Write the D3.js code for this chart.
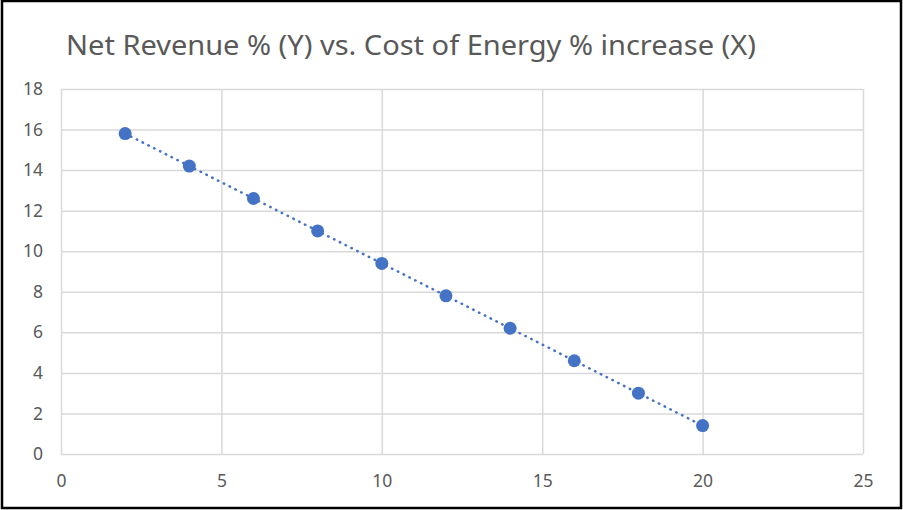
<!DOCTYPE html>
<html><head><meta charset="utf-8">
<script src="https://cdn.jsdelivr.net/npm/d3@7"></script>
<style>body{margin:0;background:#fff}svg{display:block}</style>
</head><body>
<svg id="c" width="903" height="510"></svg>
<script>
const title = "Net Revenue % (Y) vs. Cost of Energy % increase (X)";
const xValues = [2, 4, 6, 8, 10, 12, 14, 16, 18, 20];
const yValues = [15.8, 14.2, 12.6, 11.0, 9.4, 7.8, 6.2, 4.6, 3.0, 1.4];
const xTicks = [0, 5, 10, 15, 20, 25];
const yTicks = [0, 2, 4, 6, 8, 10, 12, 14, 16, 18];

const svg = d3.select("#c");
const W = 903, H = 510;
const m = {l: 61, r: 40, t: 89, b: 56};
const x = d3.scaleLinear().domain([0, 25]).range([m.l, W - m.r]);
const y = d3.scaleLinear().domain([0, 18]).range([H - m.b, m.t]);
const font = "'Noto Sans', 'Open Sans', sans-serif";
const txt = "#595959", grid = "#d9d9d9", blue = "#4472C4";

svg.append("rect").attr("x", 2).attr("y", 1).attr("width", W - 4).attr("height", H - 3)
  .attr("fill", "#fff").attr("stroke", "#000").attr("stroke-width", 2.5);

const t = svg.append("text").attr("x", 66).attr("y", 55).attr("font-family", font)
  .attr("font-size", 24).attr("fill", txt).text(title);
const tl = t.node().getComputedTextLength();
t.attr("font-size", 24 * Math.min(1.12, 690 / tl));
t.attr("textLength", 690).attr("lengthAdjust", "spacingAndGlyphs");

const gx = svg.append("g").attr("transform", `translate(0,${H - m.b})`)
  .call(d3.axisBottom(x).tickValues(xTicks).tickSize(-(H - m.b - m.t)).tickPadding(17));
const gy = svg.append("g").attr("transform", `translate(${m.l},0)`)
  .call(d3.axisLeft(y).tickValues(yTicks).tickSize(-(W - m.r - m.l)).tickPadding(18));
[gx, gy].forEach(g => {
  g.select(".domain").remove();
  g.selectAll(".tick line").attr("stroke", grid).attr("stroke-width", 1.5);
  g.selectAll(".tick text").attr("fill", txt).attr("font-family", font).attr("font-size", 17.5);
});
gx.selectAll(".tick text").attr("dy", "0.71em").attr("y", 21);

const pts = xValues.map((v, i) => [v, yValues[i]]);
svg.append("path").datum(pts)
  .attr("d", d3.line().x(d => x(d[0])).y(d => y(d[1])))
  .attr("fill", "none").attr("stroke", blue).attr("stroke-width", 2.5)
  .attr("stroke-dasharray", "0.5 6").attr("stroke-linecap", "round");

svg.selectAll("circle.p").data(pts).join("circle").attr("class", "p")
  .attr("cx", d => x(d[0])).attr("cy", d => y(d[1])).attr("r", 6.5).attr("fill", blue);
</script>
</body></html>
